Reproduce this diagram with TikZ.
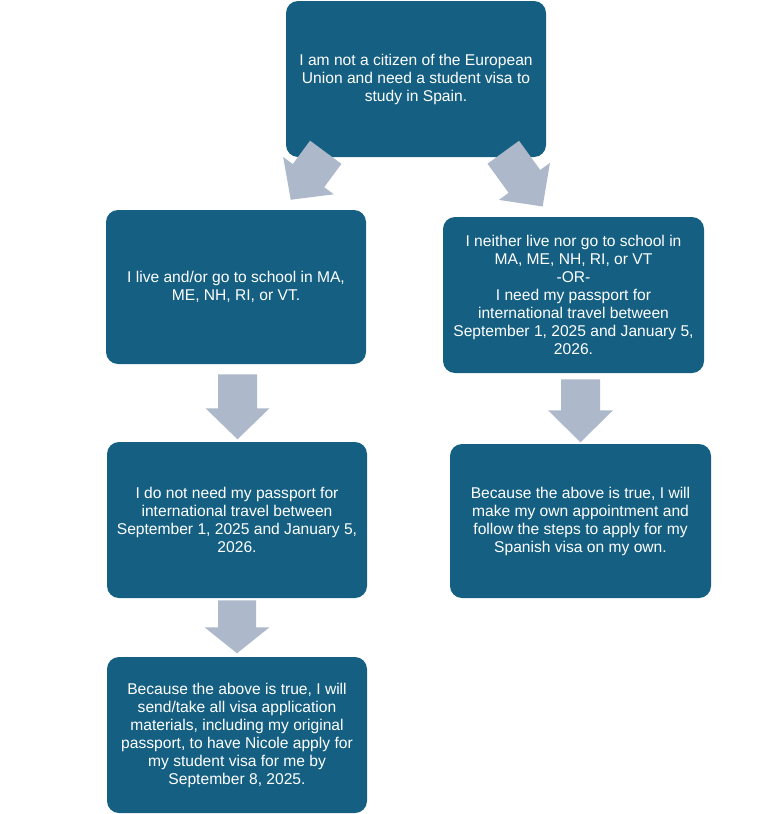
\documentclass[tikz,border=0pt]{standalone}
\usepackage{fontspec}
\setmainfont{Liberation Sans}
\usetikzlibrary{calc}
\definecolor{boxblue}{HTML}{156082}
\definecolor{arrowgray}{HTML}{ADB9CA}
\tikzset{
  flowbox/.style args={#1x#2}{rectangle, rounded corners=9pt, fill=boxblue, text=white,
    minimum width={#1*0.75pt}, minimum height={#2*0.75pt}, inner sep=0pt, align=center,
    font=\fontsize{11.7pt}{13.5pt}\selectfont},
}
% block arrow: #1 = back-centre coordinate, #2 = rotation, #3 shaft length, #4 head length, #5 shaft width, #6 head width
\newcommand\blockarr[6]{%
  \fill[arrowgray, shift={(#1)}, rotate=#2]
    ({-#5/2},0) -- ({#5/2},0) -- ({#5/2},#3) -- ({#6/2},#3) -- (0,{#3+#4}) -- ({-#6/2},#3) -- ({-#5/2},#3) -- cycle;}
\begin{document}
\begin{tikzpicture}[x=0.75pt,y=-0.75pt]
\useasboundingbox (0,0) rectangle (771,814);
\node[flowbox=260x156] (top) at (416,79) {I am not a citizen of the European\\Union and need a student visa to\\study in Spain.};
\node[flowbox=260x154] (A) at (236,287) {I live and/or go to school in MA,\\ME, NH, RI, or VT.};
\node[flowbox=261x156] (B) at (573.5,295) {I neither live nor go to school in\\MA, ME, NH, RI, or VT\\-OR-\\I need my passport for\\international travel between\\September 1, 2025 and January 5,\\2026.};
\node[flowbox=260x156] (C) at (237,520) {I do not need my passport for\\international travel between\\September 1, 2025 and January 5,\\2026.};
\node[flowbox=260x156] (D) at (237,735) {Because the above is true, I will\\send/take all visa application\\materials, including my original\\passport, to have Nicole apply for\\my student visa for me by\\September 8, 2025.};
\node[flowbox=261x154] (E) at (580.5,521) {Because the above is true, I will\\make my own appointment and\\follow the steps to apply for my\\Spanish visa on my own.};
% connectors
\coordinate (tl) at ($(top.south west)+(40,-5)$);
\coordinate (tr) at ($(top.south east)+(-43,-5)$);
\coordinate (ac) at ($(A.south)+(1.5,10)$);
\coordinate (cd) at ($(C.south)+(0,2)$);
\coordinate (be) at ($(B.south)+(7,6)$);
\blockarr{tl}{-36.4}{29}{30}{39}{63}
\blockarr{tr}{36}{36}{31}{39}{63}
\blockarr{ac}{0}{34}{31}{39}{64}
\blockarr{cd}{0}{27}{26}{38}{65}
\blockarr{be}{0}{31}{32}{39}{65}
\end{tikzpicture}
\end{document}
